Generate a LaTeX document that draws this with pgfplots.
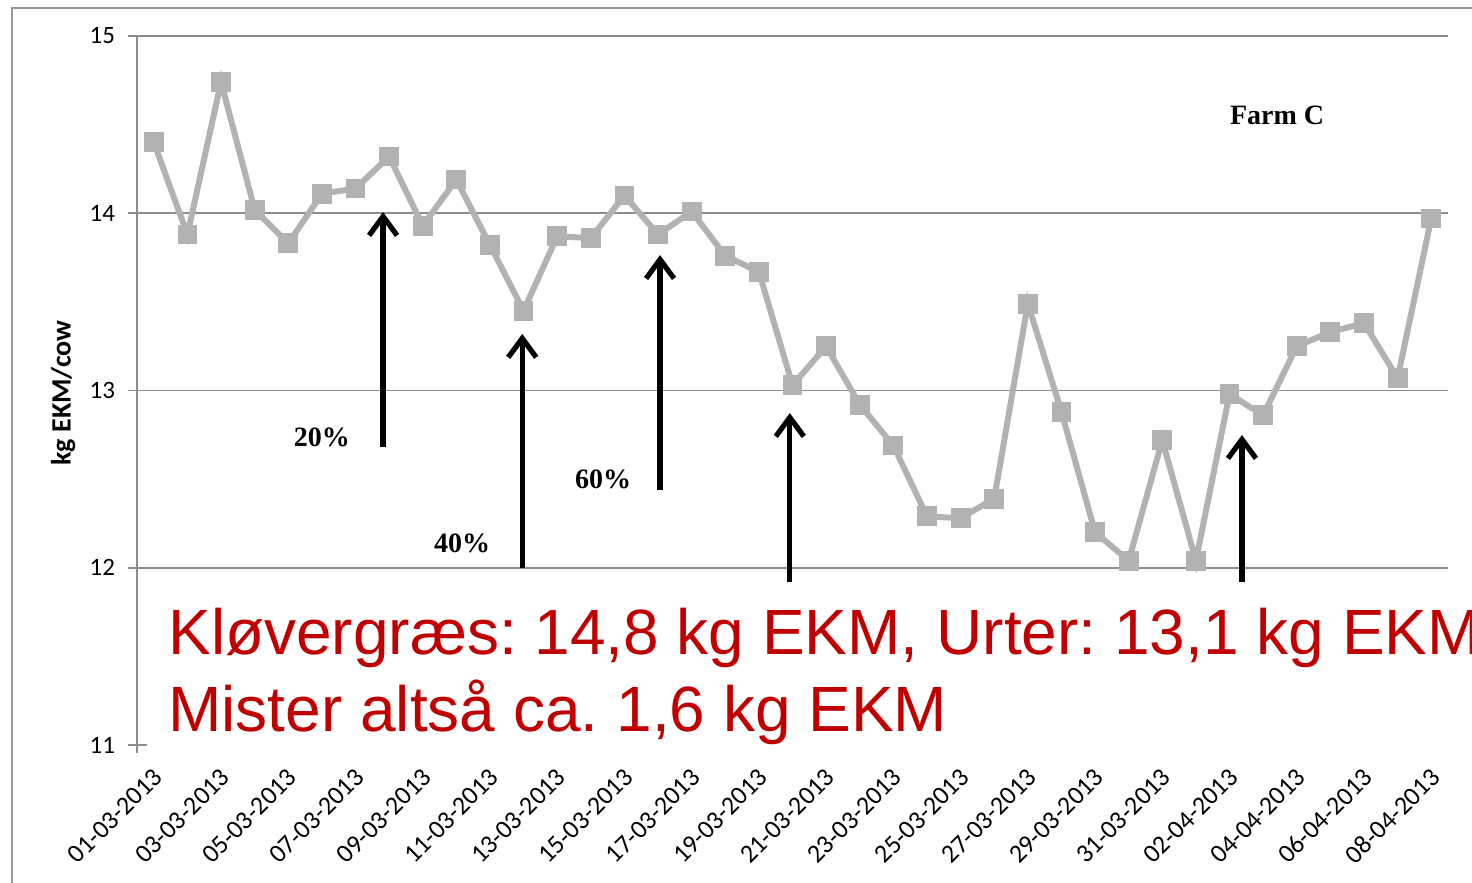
\documentclass[border=0pt]{standalone}
\usepackage{pgfplots}
\pgfplotsset{compat=1.18}
\usepackage{fontspec}
\setmainfont{Carlito}
\newfontfamily\arialfont{Liberation Sans}
\newfontfamily\timesfont{Liberation Serif}
\usetikzlibrary{arrows.meta}
\definecolor{lgray}{RGB}{178,178,178}
\definecolor{ggray}{RGB}{140,140,140}
\definecolor{fgray}{RGB}{150,150,150}
\definecolor{dred}{RGB}{192,0,0}
\frenchspacing
\begin{document}
\begin{tikzpicture}
\begin{axis}[
  scale only axis, width=655.5pt, height=354.5pt,
  xmin=-0.5, xmax=38.5, ymin=11, ymax=15,
  axis lines*=left,
  x axis line style={draw=none},
  y axis line style={ggray, line width=0.9pt},
  ytick={11,12,13,14,15},
  extra y ticks={12,13,14,15},
  extra y tick labels={},
  extra y tick style={grid=major, major tick length=0pt},
  grid style={ggray, line width=0.9pt},
  xtick={0,2,...,38},
  xticklabels={01-03-2013,03-03-2013,05-03-2013,07-03-2013,09-03-2013,11-03-2013,13-03-2013,15-03-2013,17-03-2013,19-03-2013,21-03-2013,23-03-2013,25-03-2013,27-03-2013,29-03-2013,31-03-2013,02-04-2013,04-04-2013,06-04-2013,08-04-2013},
  x tick style={draw=none},
  y tick style={ggray, line width=0.9pt},
  tick align=outside, major tick length=4.5pt,
  ticklabel style={font=\fontsize{12.5}{14}\selectfont},
  /pgf/number format/assume math mode=true,
  xticklabel style={font=\fontsize{13}{15}\selectfont, xshift=4.5pt, yshift=-7pt, rotate=45, anchor=east},
  yticklabel style={xshift=-3pt},
  ylabel={kg EKM/cow},
  ylabel style={font=\bfseries\fontsize{14}{16}\selectfont, at={(rel axis cs:-0.0564,0.4965)}, anchor=center},
  clip=false,
]
\addplot[lgray, line width=3pt, mark=square*, mark size=4.7pt, mark options={lgray, solid, line width=0pt}] coordinates {
(0,14.40) (1,13.88) (2,14.74) (3,14.02) (4,13.83) (5,14.11) (6,14.14) (7,14.32) (8,13.93) (9,14.19)
(10,13.82) (11,13.45) (12,13.87) (13,13.86) (14,14.10) (15,13.88) (16,14.01) (17,13.76) (18,13.67) (19,13.03)
(20,13.25) (21,12.92) (22,12.69) (23,12.29) (24,12.28) (25,12.39) (26,13.49) (27,12.88) (28,12.20) (29,12.04)
(30,12.72) (31,12.04) (32,12.98) (33,12.86) (34,13.25) (35,13.33) (36,13.38) (37,13.07) (38,13.97)
};
\addplot[black, line width=2.6pt, -{Straight Barb[length=9.5pt,width=14pt]}] coordinates {(6.82,12.681) (6.82,14.007)};
\addplot[black, line width=2.6pt, -{Straight Barb[length=9.5pt,width=14pt]}] coordinates {(10.96,12.0) (10.96,13.319)};
\addplot[black, line width=2.6pt, -{Straight Barb[length=9.5pt,width=14pt]}] coordinates {(15.06,12.439) (15.06,13.764)};
\addplot[black, line width=2.6pt, -{Straight Barb[length=9.5pt,width=14pt]}] coordinates {(18.92,11.92) (18.92,12.873)};
\addplot[black, line width=2.6pt, -{Straight Barb[length=9.5pt,width=14pt]}] coordinates {(32.37,11.92) (32.37,12.749)};
\draw[ggray, line width=0.9pt] (rel axis cs:0,0) -- ++(0pt,-4pt);
\draw[ggray, line width=0.9pt] (rel axis cs:0,0) -- ++(5pt,0pt);
\node[font=\timesfont\bfseries\fontsize{14}{16}\selectfont] at (rel axis cs:0.8696,0.8886) {Farm C};
\node[font=\timesfont\bfseries\fontsize{14}{16}\selectfont] at (rel axis cs:0.1411,0.4344) {20\%};
\node[font=\timesfont\bfseries\fontsize{14}{16}\selectfont] at (rel axis cs:0.2479,0.2849) {40\%};
\node[font=\timesfont\bfseries\fontsize{14}{16}\selectfont] at (rel axis cs:0.3555,0.3752) {60\%};
\node[anchor=base west, inner sep=0pt, text=dred, font=\arialfont\fontsize{32}{38}\selectfont] at (rel axis cs:0.0236,0.127) {Kløvergræs: 14,8 kg EKM, Urter: 13,1 kg EKM};
\node[anchor=base west, inner sep=0pt, text=dred, font=\arialfont\fontsize{32}{38}\selectfont] at (rel axis cs:0.0236,0.0197) {Mister altså ca. 1,6 kg EKM};
\draw[fgray, line width=1pt] (rel axis cs:-0.0953,-0.3) -- (rel axis cs:-0.0953,1.0395) -- (rel axis cs:1.2,1.0395);
\coordinate (bbsw) at (rel axis cs:-0.1045,-0.1932);
\coordinate (bbne) at (rel axis cs:1.0183,1.0508);
\end{axis}
\pgfresetboundingbox
\path[use as bounding box] (bbsw) rectangle (bbne);
\end{tikzpicture}
\end{document}
